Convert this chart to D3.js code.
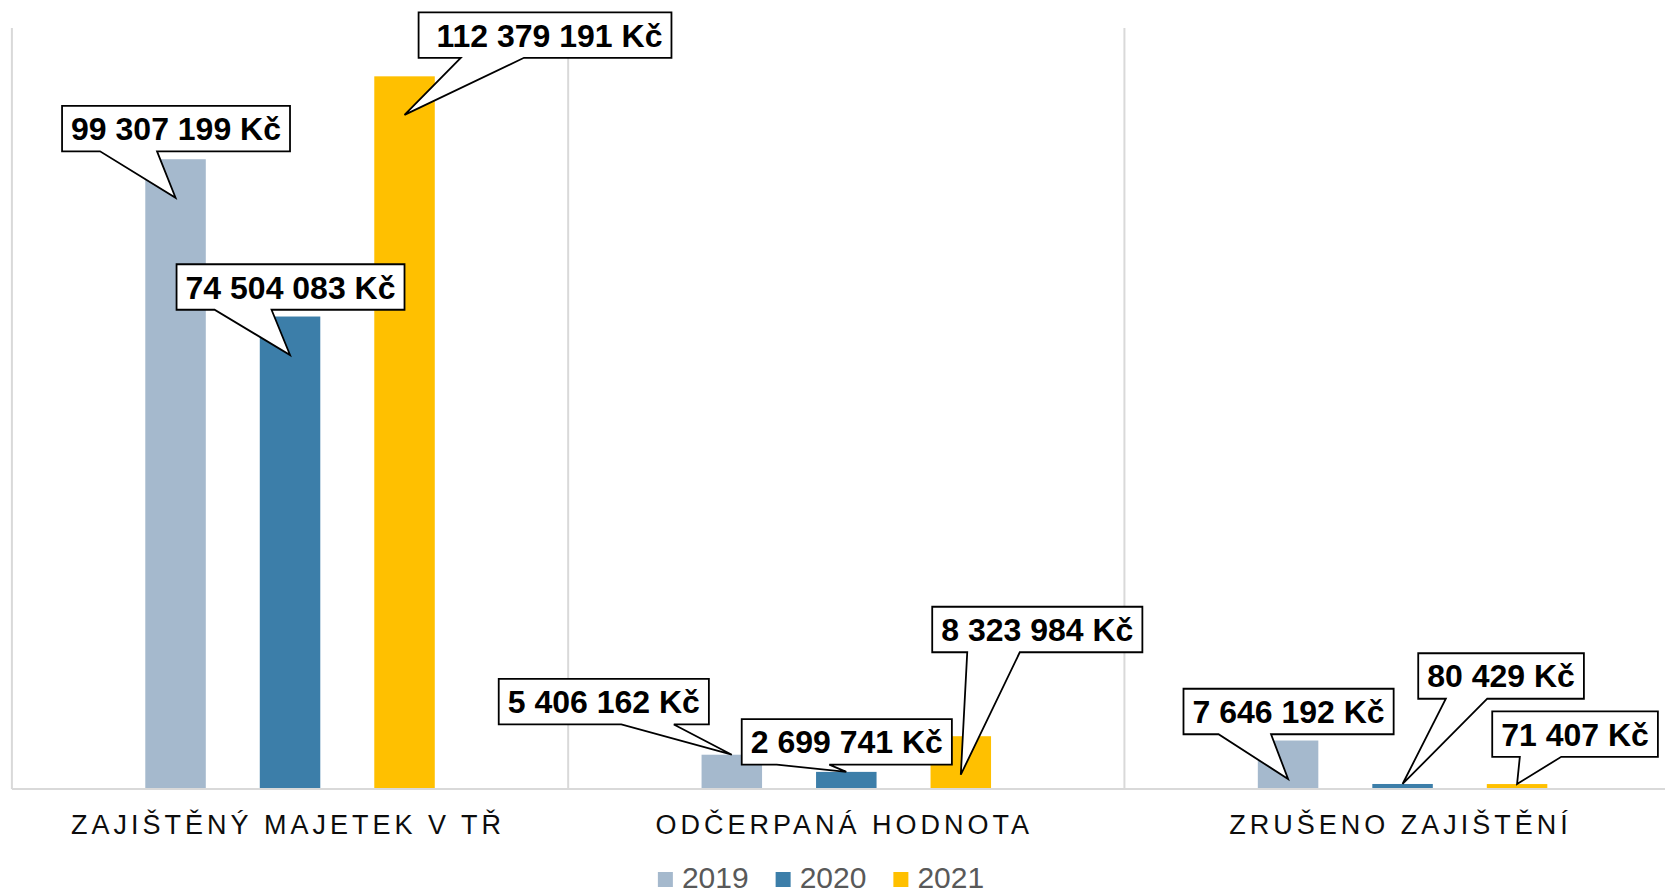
<!DOCTYPE html>
<html>
<head>
<meta charset="utf-8">
<script src="https://cdn.jsdelivr.net/npm/d3@7/dist/d3.min.js"></script>
<style>
  html, body { margin: 0; padding: 0; background: #fff; }
  svg { display: block; font-family: "Liberation Sans", Arial, sans-serif; }
</style>
</head>
<body>
<svg id="chart" width="1665" height="894"></svg>
<script>
// ---------- data ----------
const categories = ["ZAJIŠTĚNÝ MAJETEK V TŘ", "ODČERPANÁ HODNOTA", "ZRUŠENO ZAJIŠTĚNÍ"];
const seriesNames = ["2019", "2020", "2021"];
const values2019 = [99307199, 5406162, 7646192];
const values2020 = [74504083, 2699741, 790000];
const values2021 = [112379191, 8323984, 780000];
const labels2019 = ["99 307 199 Kč", "5 406 162 Kč", "7 646 192 Kč"];
const labels2020 = ["74 504 083 Kč", "2 699 741 Kč", "80 429 Kč"];
const labels2021 = [" 112 379 191 Kč", "8 323 984 Kč", "71 407 Kč"];
const yDomainMax = 120000000;

// ---------- layout / style ----------
const W = 1665, H = 894;
const plot = { left: 11.9, right: 1680.7, top: 28, bottom: 789 };
const colors = { "2019": "#A5B9CD", "2020": "#3C7EA9", "2021": "#FFC000" };
// callout box centre offsets relative to (bar centre, bar top)
const calloutOffsets = {
  "2019": [[0.5, -30.7], [-128, -53], [0.5, -29]],
  "2020": [[0.5, -29.5], [0.5, -30], [98.5, -108]],
  "2021": [[140.5, -41.3], [76.5, -106.7], [58, -50]]
};
const tipInset = 38.5, tipMinBar = 40;
const boxH = 45.5, boxPad = 9;

const seriesValues = { "2019": values2019, "2020": values2020, "2021": values2021 };
const seriesLabels = { "2019": labels2019, "2020": labels2020, "2021": labels2021 };

const svg = d3.select("#chart");

const x0 = d3.scaleBand().domain(categories).range([plot.left, plot.right]).padding(0);
const x1 = d3.scaleBand().domain(seriesNames).range([0, x0.bandwidth()])
  .paddingInner(0.4716).paddingOuter(1.165);
const y = d3.scaleLinear().domain([0, yDomainMax]).range([plot.bottom, plot.top]);

// vertical category gridlines
const boundaries = categories.map(c => x0(c)).concat([x0(categories[categories.length - 1]) + x0.bandwidth()]);
svg.append("g").selectAll("line").data(boundaries).join("line")
  .attr("x1", d => d).attr("x2", d => d)
  .attr("y1", plot.top).attr("y2", plot.bottom)
  .attr("stroke", "#d9d9d9").attr("stroke-width", 2);

// bars
const barData = [];
categories.forEach((c, ci) => {
  seriesNames.forEach(s => {
    barData.push({ cat: c, ci, s, v: seriesValues[s][ci], label: seriesLabels[s][ci] });
  });
});

svg.append("g").selectAll("rect").data(barData).join("rect")
  .attr("x", d => x0(d.cat) + x1(d.s))
  .attr("width", x1.bandwidth())
  .attr("y", d => y(d.v))
  .attr("height", d => y(0) - y(d.v))
  .attr("fill", d => colors[d.s]);

// category axis
const xAxis = d3.axisBottom(x0).tickSize(0).tickPadding(0);
const gx = svg.append("g").attr("transform", `translate(0,${plot.bottom})`).call(xAxis);
gx.select(".domain").attr("stroke", "#d9d9d9").attr("stroke-width", 2)
  .attr("d", `M${plot.left},0H${W + 20}`);
gx.selectAll(".tick text")
  .attr("y", 45).attr("dy", 0)
  .attr("dx", -2)
  .style("font-family", "'Liberation Sans', Arial, sans-serif")
  .style("font-size", "27px")
  .style("letter-spacing", "4px")
  .attr("fill", "#0d0d0d");

// callouts
function calloutPath(l, t, w, h, tx, ty) {
  const r = l + w, b = t + h, hc = l + w / 2, vc = t + h / 2;
  const dx = tx - hc, dy = ty - vc;
  const dq = dx * h / w;
  if (Math.abs(dy) > Math.abs(dq)) {
    const g1 = dx > 0 ? 7 : 2, g2 = dx > 0 ? 10 : 5;
    const xa = l + w * g1 / 12, xb = l + w * g2 / 12;
    if (dy > 0) return `M${l},${t}H${r}V${b}H${xb}L${tx},${ty}L${xa},${b}H${l}Z`;
    return `M${l},${t}H${xa}L${tx},${ty}L${xb},${t}H${r}V${b}H${l}Z`;
  } else {
    const g1 = dy > 0 ? 7 : 2, g2 = dy > 0 ? 10 : 5;
    const ya = t + h * g1 / 12, yb = t + h * g2 / 12;
    if (dx > 0) return `M${l},${t}H${r}V${ya}L${tx},${ty}L${r},${yb}V${b}H${l}Z`;
    return `M${l},${t}H${r}V${b}H${l}V${yb}L${tx},${ty}L${l},${ya}Z`;
  }
}

const cg = svg.append("g");
barData.forEach(d => {
  const bx = x0(d.cat) + x1(d.s) + x1.bandwidth() / 2;
  const top = y(d.v);
  const barH = y(0) - top;
  const tipY = barH > tipMinBar ? top + tipInset : top;
  const off = calloutOffsets[d.s][d.ci];
  const cx = bx + off[0], cy = top + off[1];
  const g = cg.append("g");
  const path = g.append("path");
  const txt = g.append("text")
    .attr("x", cx).attr("y", cy + 11.5)
    .attr("text-anchor", "middle")
    .style("white-space", "pre")
    .attr("xml:space", "preserve")
    .style("font-size", "32px").style("font-weight", "bold")
    .attr("fill", "#000")
    .text(d.label);
  const tw = txt.node().getComputedTextLength();
  const bw = tw + 2 * boxPad;
  path.attr("d", calloutPath(cx - bw / 2, cy - boxH / 2, bw, boxH, bx, tipY))
    .attr("fill", "#fff").attr("stroke", "#000").attr("stroke-width", 1.8)
    .attr("stroke-linejoin", "miter");
});

// legend
const legendCenter = 821;
const legendBaseline = 887.5;
const lg = svg.append("g");
const items = seriesNames.map(s => {
  const g = lg.append("g");
  g.append("rect").attr("width", 15).attr("height", 15).attr("y", legendBaseline - 15.5).attr("fill", colors[s]);
  const t = g.append("text").attr("y", legendBaseline).style("font-size", "30px").attr("fill", "#595959").text(s);
  return { g, t, w: 15 + 9 + t.node().getComputedTextLength() };
});
const gap = 27;
const total = d3.sum(items, d => d.w) + gap * (items.length - 1);
let cur = legendCenter - total / 2;
items.forEach(it => {
  it.g.select("rect").attr("x", cur);
  it.t.attr("x", cur + 24);
  cur += it.w + gap;
});
</script>
</body>
</html>
